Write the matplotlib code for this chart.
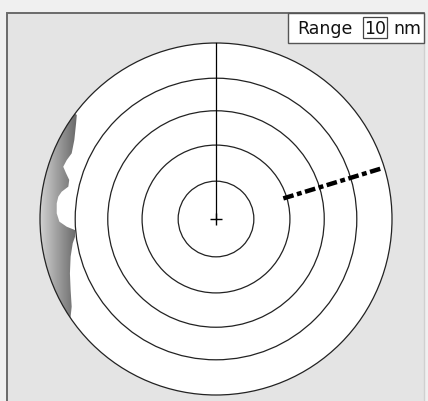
import numpy as np
import matplotlib
matplotlib.use("Agg")
from matplotlib import pyplot as plt
from matplotlib.patches import Circle, Rectangle, Polygon

# radar data (nautical miles, bearings in degrees)
range_nm = 10
ring_radii = [2.15, 4.2, 6.15, 8.0, 10.0]
heading_deg = 0
bearing_deg = 73
bearing_start = 4.0
bearing_end = 9.8

# coastline echo, (x, y) in nm from own ship
coast_x = [-7.91, -7.95, -8.05, -8.20, -8.48, -8.68, -8.52, -8.34, -8.39, -8.77, -8.96, -9.05,
           -9.05, -8.90, -8.48, -8.01, -8.01, -8.14, -8.26, -8.30, -8.26, -8.20, -8.26]
coast_y = [5.91, 5.44, 4.49, 3.73, 3.35, 2.97, 2.60, 2.22, 1.84, 1.55, 1.27, 0.89,
           0.32, -0.15, -0.44, -0.63, -1.01, -1.38, -2.14, -3.09, -4.03, -4.98, -5.55]

W, H = 428, 401
px_per_nm = 17.6
cx, cy = 216, 219

fig = plt.figure(figsize=(W / 100, H / 100), dpi=100)
fig.patch.set_facecolor('#f0f0f0')

# pixel layout axes
ax_bg = fig.add_axes([0, 0, 1, 1])
ax_bg.set_xlim(0, W)
ax_bg.set_ylim(H, 0)
ax_bg.axis('off')
ax_bg.add_patch(Rectangle((7.5, 12.5), 417, 400, facecolor='#e4e4e4', edgecolor='none'))
ax_bg.plot([7.5, 7.5, 424.5], [H, 12.5, 12.5], color='#6a6a6a', lw=1.4, solid_joinstyle='miter')
ax_bg.plot([424.5, 424.5], [12.5, H], color='#d0d0d0', lw=1.0)

# radar axes in nm
ax = fig.add_axes([0, 0, 1, 1])
ax.set_xlim(-cx / px_per_nm, (W - cx) / px_per_nm)
ax.set_ylim(-(H - cy) / px_per_nm, cy / px_per_nm)
ax.set_aspect('equal')
ax.axis('off')
ax.patch.set_alpha(0)

outer = ring_radii[-1]
ax.add_patch(Circle((0, 0), outer, facecolor='white', edgecolor='none', zorder=1))

# land echo with gradient
a0 = np.arctan2(coast_y[-1], coast_x[-1])
a1 = np.arctan2(coast_y[0], coast_x[0])
if a0 < a1:
    a0 += 2 * np.pi
arc = np.linspace(a0, a1, 80)
poly = list(zip(coast_x, coast_y)) + list(zip(outer * np.cos(arc), outer * np.sin(arc)))
land = Polygon(poly, closed=True, facecolor='none', edgecolor='none')
ax.add_patch(land)
grad = np.linspace(0, 1, 64).reshape(1, -1)
img = ax.imshow(grad, cmap='gray_r', vmin=-0.45, vmax=2.0, aspect='auto',
                extent=[-outer, max(coast_x), -outer, outer], zorder=2, interpolation='bilinear')
img.set_clip_path(land)

for r in ring_radii:
    ax.add_patch(Circle((0, 0), r, facecolor='none', edgecolor='#222222', lw=0.9, zorder=3))

# heading line
hd = np.radians(heading_deg)
ax.plot([0, outer * np.sin(hd)], [0, outer * np.cos(hd)], color='black', lw=0.9, zorder=4)
ax.plot([0], [0], marker='+', color='black', ms=9, mew=1.0, zorder=5)

# bearing line
b = np.radians(bearing_deg)
ax.plot([bearing_start * np.sin(b), bearing_end * np.sin(b)],
        [bearing_start * np.cos(b), bearing_end * np.cos(b)],
        color='black', lw=3.2, dashes=(2.4, 0.8, 1.1, 0.8), solid_capstyle='butt',
        dash_capstyle='butt', zorder=6)

# range label
ax.add_patch(Rectangle((288, 13), 136, 30, transform=ax_bg.transData, facecolor='white',
                       edgecolor='#555555', lw=1.0, zorder=7))
ax.add_patch(Rectangle((363, 17), 24, 21, transform=ax_bg.transData, facecolor='white',
                       edgecolor='#444444', lw=0.9, zorder=8))
ax.text(297, 29, 'Range', transform=ax_bg.transData, fontsize=12.5, va='center', ha='left',
        color='#111111', zorder=9)
ax.text(375, 29, str(range_nm), transform=ax_bg.transData, fontsize=12.5, va='center', ha='center',
        color='#111111', zorder=9)
ax.text(393, 29, 'nm', transform=ax_bg.transData, fontsize=12.5, va='center', ha='left',
        color='#111111', zorder=9)

fig.savefig('out.png', dpi=100, facecolor=fig.get_facecolor())
